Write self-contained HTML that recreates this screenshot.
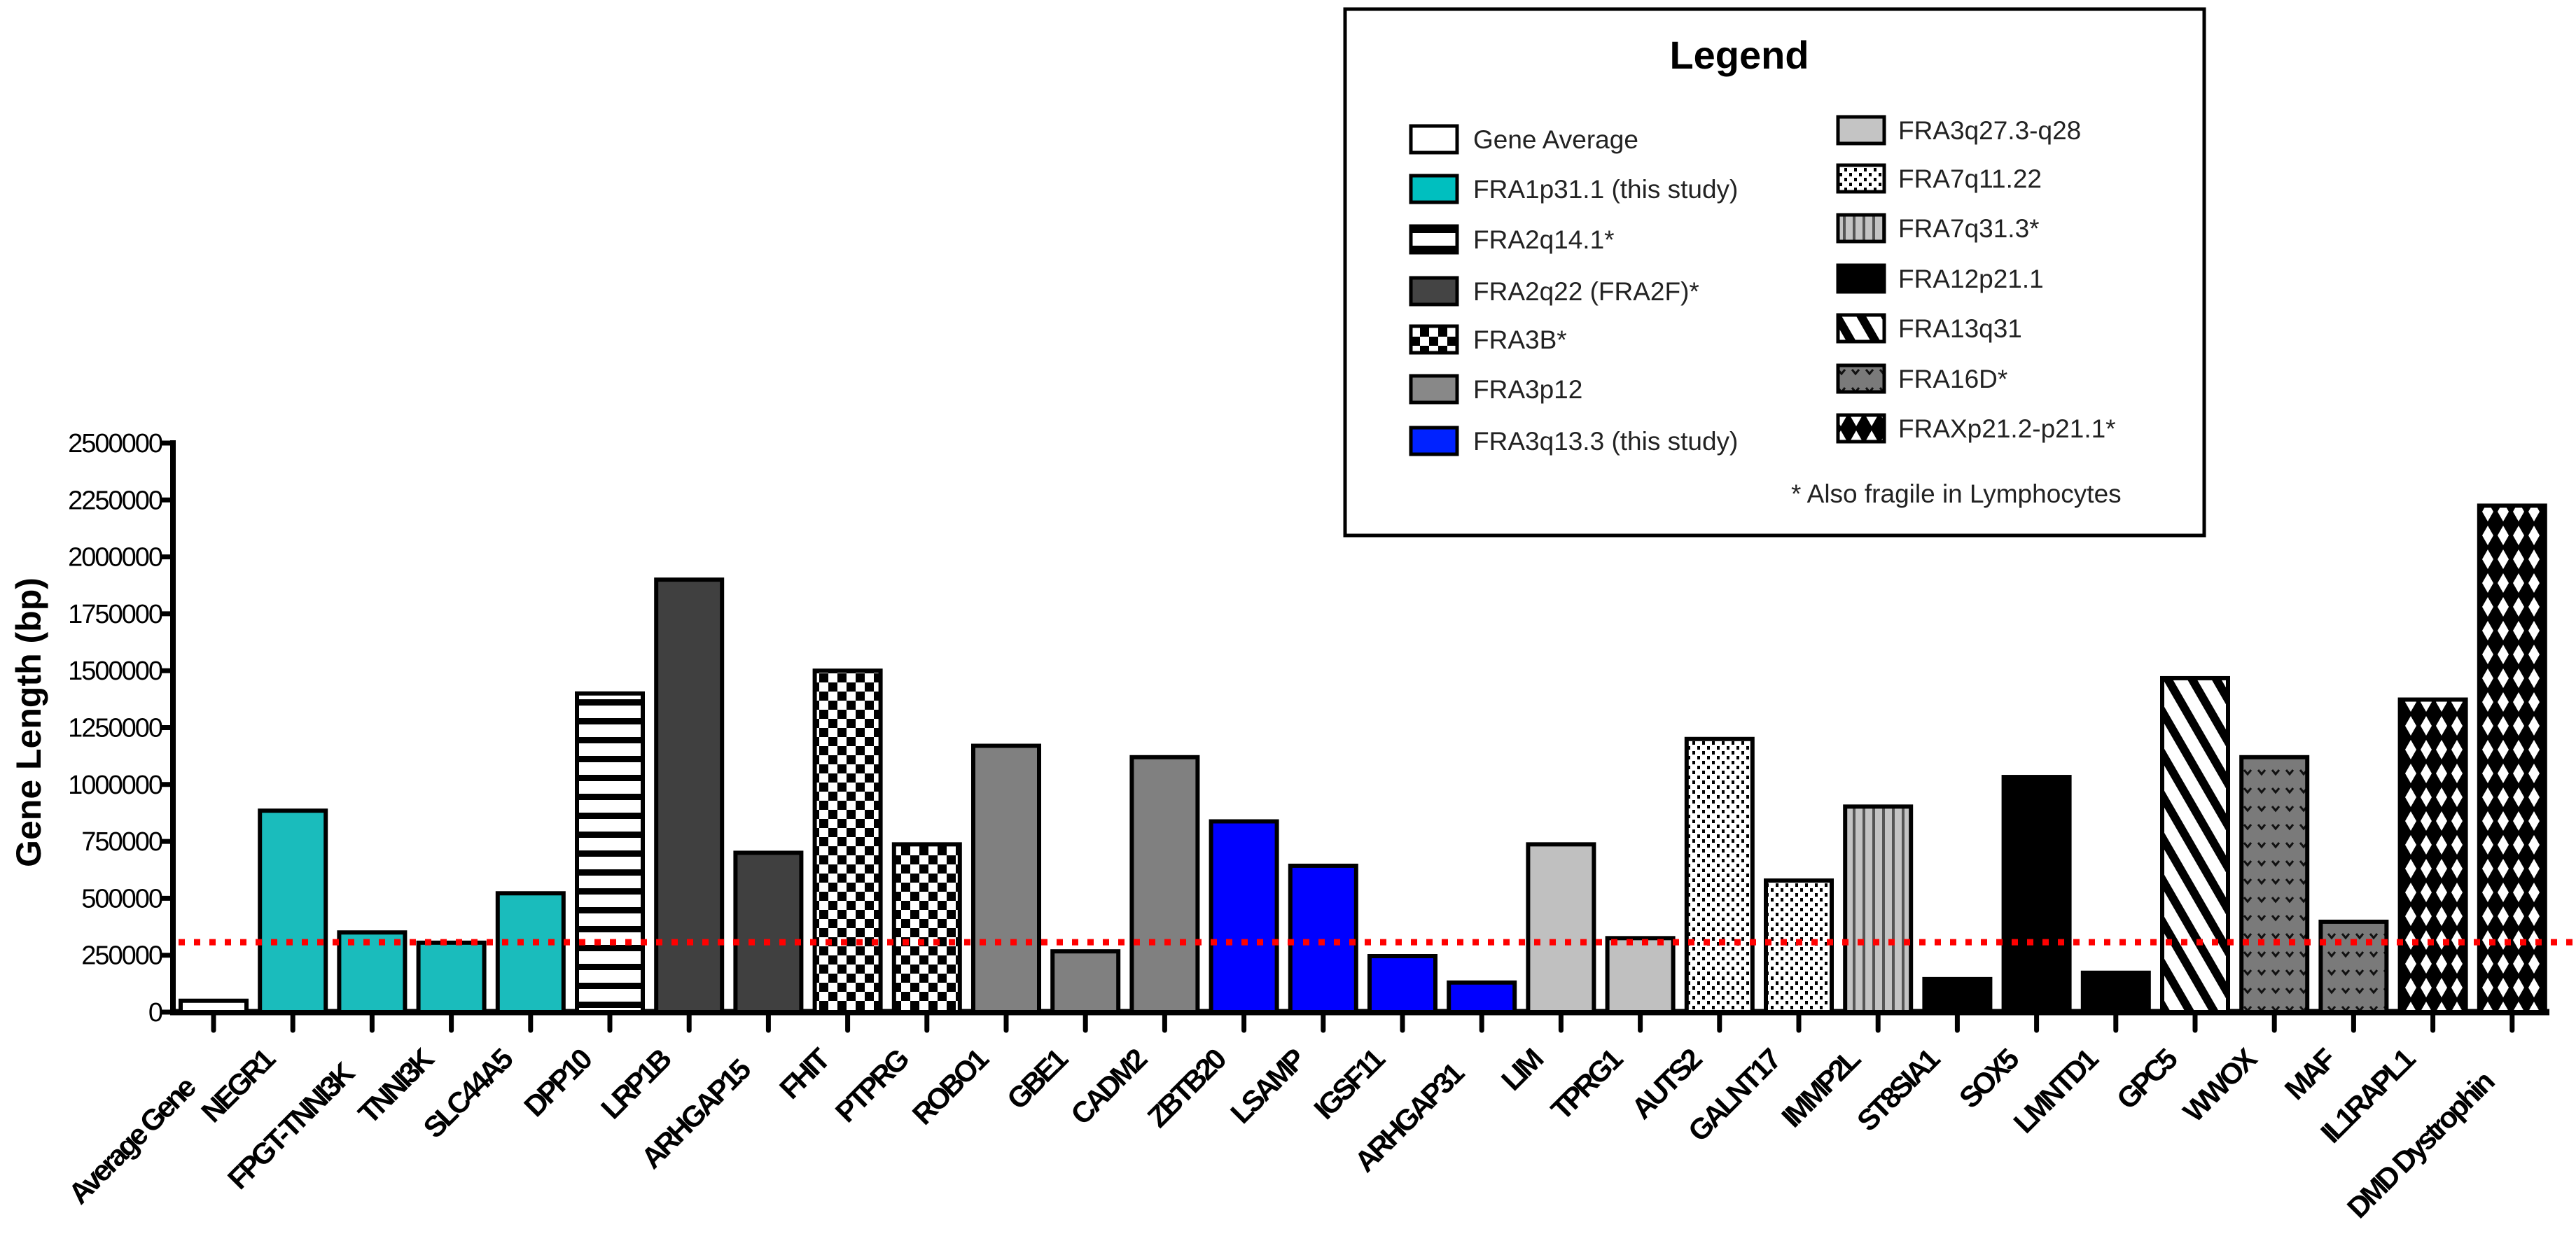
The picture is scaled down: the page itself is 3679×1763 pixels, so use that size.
<!DOCTYPE html>
<html><head><meta charset="utf-8"><style>
html,body{margin:0;padding:0;background:#fff}
svg{display:block}
text{font-family:"Liberation Sans",Arial,sans-serif}
</style></head><body>
<svg id="chart" width="3679" height="1763" viewBox="0 0 3679 1763" xmlns="http://www.w3.org/2000/svg">
<defs>
<pattern id="p-hlines" width="30" height="27" patternUnits="userSpaceOnUse"><rect width="30" height="27" fill="#fff"/><rect y="0" width="30" height="9" fill="#000"/></pattern>
<pattern id="p-checker" width="26" height="26" patternUnits="userSpaceOnUse"><rect width="26" height="26" fill="#fff"/><rect width="13" height="13" fill="#000"/><rect x="13" y="13" width="13" height="13" fill="#000"/></pattern>
<pattern id="p-stipple" width="14" height="14" patternUnits="userSpaceOnUse"><rect width="14" height="14" fill="#fff"/><rect x="2" y="2" width="4" height="5" fill="#000"/><rect x="9" y="9" width="4" height="5" fill="#000"/></pattern>
<pattern id="p-vlines" width="14" height="20" patternUnits="userSpaceOnUse"><rect width="14" height="20" fill="#c4c4c4"/><rect x="0" width="4" height="20" fill="#555"/></pattern>
<pattern id="p-diag" width="30" height="36" patternUnits="userSpaceOnUse" patternTransform="rotate(-30)"><rect width="30" height="36" fill="#fff"/><rect width="12" height="36" fill="#000"/></pattern>
<pattern id="p-fra16" width="20" height="26" patternUnits="userSpaceOnUse"><rect width="20" height="26" fill="#7a7a7a"/><path d="M5 8 L10 14 L15 8" stroke="#111" stroke-width="3" fill="none"/></pattern>
<pattern id="p-cross" width="22" height="34" patternUnits="userSpaceOnUse"><rect width="22" height="34" fill="#000"/><path d="M11 3 L19 17 L11 31 L3 17 Z" fill="#fff"/></pattern>
<filter id="blur" x="-5%" y="-200%" width="110%" height="500%"><feGaussianBlur stdDeviation="5"/></filter>
</defs>
<g id="axes"></g>
<g id="bars"></g>
<g id="ref"></g>
<g id="xlabels"></g>
<text transform="translate(58,1032) rotate(-90)" text-anchor="middle" font-size="50" font-weight="bold">Gene Length (bp)</text>

<g>
<rect x="1921" y="13" width="1227" height="752" fill="#fff" stroke="#000" stroke-width="5"/>
<text x="2484" y="98" text-anchor="middle" font-size="56" font-weight="bold">Legend</text>
<g font-size="37" fill="#222">
<g><rect x="2015" y="180" width="66" height="38" fill="#fff" stroke="#000" stroke-width="5"/><text x="2104" y="212">Gene Average</text></g>
<g><rect x="2015" y="251" width="66" height="38" fill="#00bfbf" stroke="#000" stroke-width="5"/><text x="2104" y="283">FRA1p31.1 (this study)</text></g>
<g><rect x="2015" y="323" width="66" height="38" fill="url(#p-hlines)" stroke="#000" stroke-width="5"/><text x="2104" y="355">FRA2q14.1*</text></g>
<g><rect x="2015" y="397" width="66" height="38" fill="#444" stroke="#000" stroke-width="5"/><text x="2104" y="429">FRA2q22 (FRA2F)*</text></g>
<g><rect x="2015" y="466" width="66" height="38" fill="url(#p-checker)" stroke="#000" stroke-width="5"/><text x="2104" y="498">FRA3B*</text></g>
<g><rect x="2015" y="537" width="66" height="38" fill="#888" stroke="#000" stroke-width="5"/><text x="2104" y="569">FRA3p12</text></g>
<g><rect x="2015" y="611" width="66" height="38" fill="#0022ff" stroke="#000" stroke-width="5"/><text x="2104" y="643">FRA3q13.3 (this study)</text></g>
<g><rect x="2625" y="167" width="66" height="38" fill="#c4c4c4" stroke="#000" stroke-width="5"/><text x="2711" y="199">FRA3q27.3-q28</text></g>
<g><rect x="2625" y="236" width="66" height="38" fill="url(#p-stipple)" stroke="#000" stroke-width="5"/><text x="2711" y="268">FRA7q11.22</text></g>
<g><rect x="2625" y="307" width="66" height="38" fill="url(#p-vlines)" stroke="#000" stroke-width="5"/><text x="2711" y="339">FRA7q31.3*</text></g>
<g><rect x="2625" y="379" width="66" height="38" fill="#000" stroke="#000" stroke-width="5"/><text x="2711" y="411">FRA12p21.1</text></g>
<g><rect x="2625" y="450" width="66" height="38" fill="url(#p-diag)" stroke="#000" stroke-width="5"/><text x="2711" y="482">FRA13q31</text></g>
<g><rect x="2625" y="522" width="66" height="38" fill="url(#p-fra16)" stroke="#000" stroke-width="5"/><text x="2711" y="554">FRA16D*</text></g>
<g><rect x="2625" y="593" width="66" height="38" fill="url(#p-cross)" stroke="#000" stroke-width="5"/><text x="2711" y="625">FRAXp21.2-p21.1*</text></g>
<text x="2558" y="718">* Also fragile in Lymphocytes</text>
</g>
</g>
</svg>
<script>
const categories = ["Average Gene","NEGR1","FPGT-TNNI3K","TNNI3K","SLC44A5","DPP10","LRP1B","ARHGAP15","FHIT","PTPRG","ROBO1","GBE1","CADM2","ZBTB20","LSAMP","IGSF11","ARHGAP31","LIM","TPRG1","AUTS2","GALNT17","IMMP2L","ST8SIA1","SOX5","LMNTD1","GPC5","WWOX","MAF","IL1RAPL1","DMD Dystrophin"];
const geneLengths = [50000,885000,350000,305000,522000,1400000,1900000,700000,1500000,737000,1170000,267000,1120000,838000,643000,246000,130000,737000,325000,1200000,578000,903000,145000,1033000,173000,1467000,1120000,397000,1373000,2225000];
const fragileSites = ["avg","fra1","fra1","fra1","fra1","fra2q14","fra2q22","fra2q22","fra3b","fra3b","fra3p12","fra3p12","fra3p12","fra3q13","fra3q13","fra3q13","fra3q13","fra3q27","fra3q27","fra7q11","fra7q11","fra7q31","fra12","fra12","fra12","fra13","fra16","fra16","frax","frax"];
const yTicks = [0,250000,500000,750000,1000000,1250000,1500000,1750000,2000000,2250000,2500000];
const averageLine = [307000];

const NS="http://www.w3.org/2000/svg";
const fills={avg:"#fff",fra1:"#1abcbc",fra2q14:"url(#p-hlines)",fra2q22:"#404040",fra3b:"url(#p-checker)",fra3p12:"#808080",fra3q13:"#0000ff",fra3q27:"#c0c0c0",fra7q11:"url(#p-stipple)",fra7q31:"url(#p-vlines)",fra12:"#000",fra13:"url(#p-diag)",fra16:"url(#p-fra16)",frax:"url(#p-cross)"};
const X0=305, STEP=113.2, BW=94, Y0=1446, YTOP=633, YMAX=2500000;
function xPos(i){return X0+i*STEP;}
function yPos(v){return Y0-(v/YMAX)*(Y0-YTOP);}
function mk(tag,attrs,parent){const e=document.createElementNS(NS,tag);for(const k in attrs)e.setAttribute(k,attrs[k]);parent.appendChild(e);return e;}
const axes=document.getElementById('axes'),bars=document.getElementById('bars'),ref=document.getElementById('ref'),xl=document.getElementById('xlabels');
const ya=mk('line',{x1:247,y1:629,x2:247,y2:1450,stroke:'#000','stroke-width':8},axes);


yTicks.forEach(v=>{
  const y=yPos(v);
  const t=mk('line',{x1:230,y1:y,x2:247,y2:y,stroke:'#000','stroke-width':7},axes);
  
  
  const l=mk('text',{x:231,y:y+13,'text-anchor':'end','font-size':38,'letter-spacing':-2},axes);
  
  
  l.textContent=String(v);
});
categories.forEach((c,i)=>{
  const x=xPos(i), y=yPos(geneLengths[i]);
  const r=mk('rect',{x:x-BW/2,y:y,width:BW,height:Y0-y,fill:fills[fragileSites[i]],stroke:'#000','stroke-width':6},bars);
  
  
  const t=mk('line',{x1:x,y1:Y0,x2:x,y2:Y0+26,stroke:'#000','stroke-width':7,'stroke-linecap':'round'},axes);
  
  
  const low={0:40,2:20,7:15,16:20,29:32}[i]||0;
  const ex=x-25, ey=1518+low;
  const l=mk('text',{x:ex,y:ey,'text-anchor':'end','font-size':42,'font-weight':'bold','letter-spacing':-4,transform:'rotate(-45 '+ex+' '+ey+')'},xl);
  
  
  l.textContent=c;
});
const xa=mk('line',{x1:243,y1:Y0,x2:3641,y2:Y0,stroke:'#000','stroke-width':9},axes);


const ry=yPos(averageLine[0]);
const sh=mk('line',{x1:255,y1:ry+14,x2:3679,y2:ry+14,stroke:'#bbb','stroke-width':10,'stroke-dasharray':'9 13',filter:'url(#blur)'},ref);


const rl=mk('line',{x1:255,y1:ry,x2:3679,y2:ry,stroke:'#ff0000','stroke-width':9,'stroke-dasharray':'9 13'},ref);


</script>
</body></html>
